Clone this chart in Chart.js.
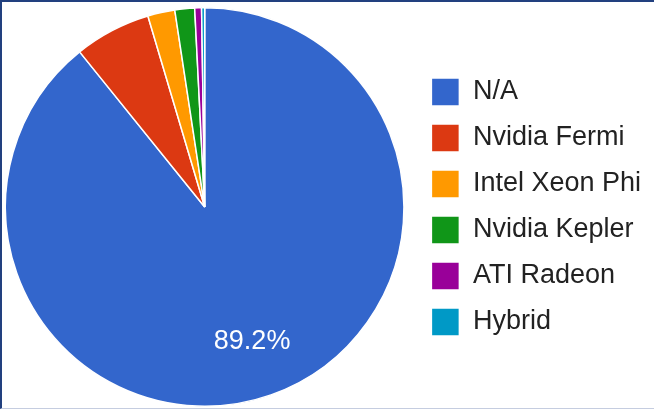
<!DOCTYPE html>
<html>
<head>
<meta charset="utf-8">
<script src="https://cdn.jsdelivr.net/npm/chart.js@4/dist/chart.umd.min.js"></script>
<style>
    html, body { margin: 0; padding: 0; background: #fff; }
    #wrap { position: relative; width: 654px; height: 409px; overflow: hidden; }
    /* canvas sits 4px left so the pie lands where the original had it */
    #inner { position: absolute; left: -4px; top: 0; width: 658px; height: 409px; }
    #frame {
        position: absolute; left: 0; top: 0; width: 654px; height: 409px;
        box-sizing: border-box; pointer-events: none;
        border-top: 2px solid #22407f; border-left: 2px solid #22407f;
        border-bottom: 1px solid #c5cde0;
    }
</style>
</head>
<body>
<div id="wrap">
    <div id="inner"><canvas id="gpuPie"></canvas></div>
    <div id="frame"></div>
</div>
<script>
// Accelerator share (percent of systems)
const categories = ['N/A', 'Nvidia Fermi', 'Intel Xeon Phi', 'Nvidia Kepler', 'ATI Radeon', 'Hybrid'];
const shares = [89.2, 6.2, 2.2, 1.6, 0.55, 0.25];
const sliceColors = ['#3366cc', '#dc3912', '#ff9900', '#109618', '#990099', '#0099c6'];

const fontFamily = "'Liberation Sans', Arial, sans-serif";
Chart.defaults.font.family = fontFamily;

// percentage label inside slices that are big enough
const sliceLabels = {
    id: 'sliceLabels',
    afterDatasetsDraw(chart) {
        const { ctx } = chart;
        const meta = chart.getDatasetMeta(0);
        ctx.save();
        ctx.fillStyle = '#ffffff';
        ctx.font = '27px ' + fontFamily;
        ctx.textAlign = 'center';
        ctx.textBaseline = 'middle';
        meta.data.forEach((arc, i) => {
            if (shares[i] < 10) return;
            const p = arc.getProps(['x', 'y', 'startAngle', 'endAngle', 'outerRadius']);
            const mid = (p.startAngle + p.endAngle) / 2;
            const d = p.outerRadius * 0.715;
            ctx.fillText(shares[i].toFixed(1) + '%', p.x + Math.cos(mid) * d, p.y + Math.sin(mid) * d);
        });
        ctx.restore();
    }
};

new Chart(document.getElementById('gpuPie'), {
    type: 'pie',
    data: {
        labels: categories,
        datasets: [{
            data: shares,
            backgroundColor: sliceColors,
            borderColor: '#ffffff',
            borderWidth: 1.5,
        }]
    },
    options: {
        responsive: true,
        maintainAspectRatio: false,
        animation: false,
        layout: { padding: { top: 7, bottom: 2, left: 0, right: 3 } },
        plugins: {
            legend: {
                position: 'right',
                labels: {
                    boxWidth: 28,
                    boxHeight: 28,
                    padding: 18,
                    color: '#222222',
                    font: { size: 27 }
                }
            },
            tooltip: { enabled: false }
        }
    },
    plugins: [sliceLabels]
});
</script>
</body>
</html>
